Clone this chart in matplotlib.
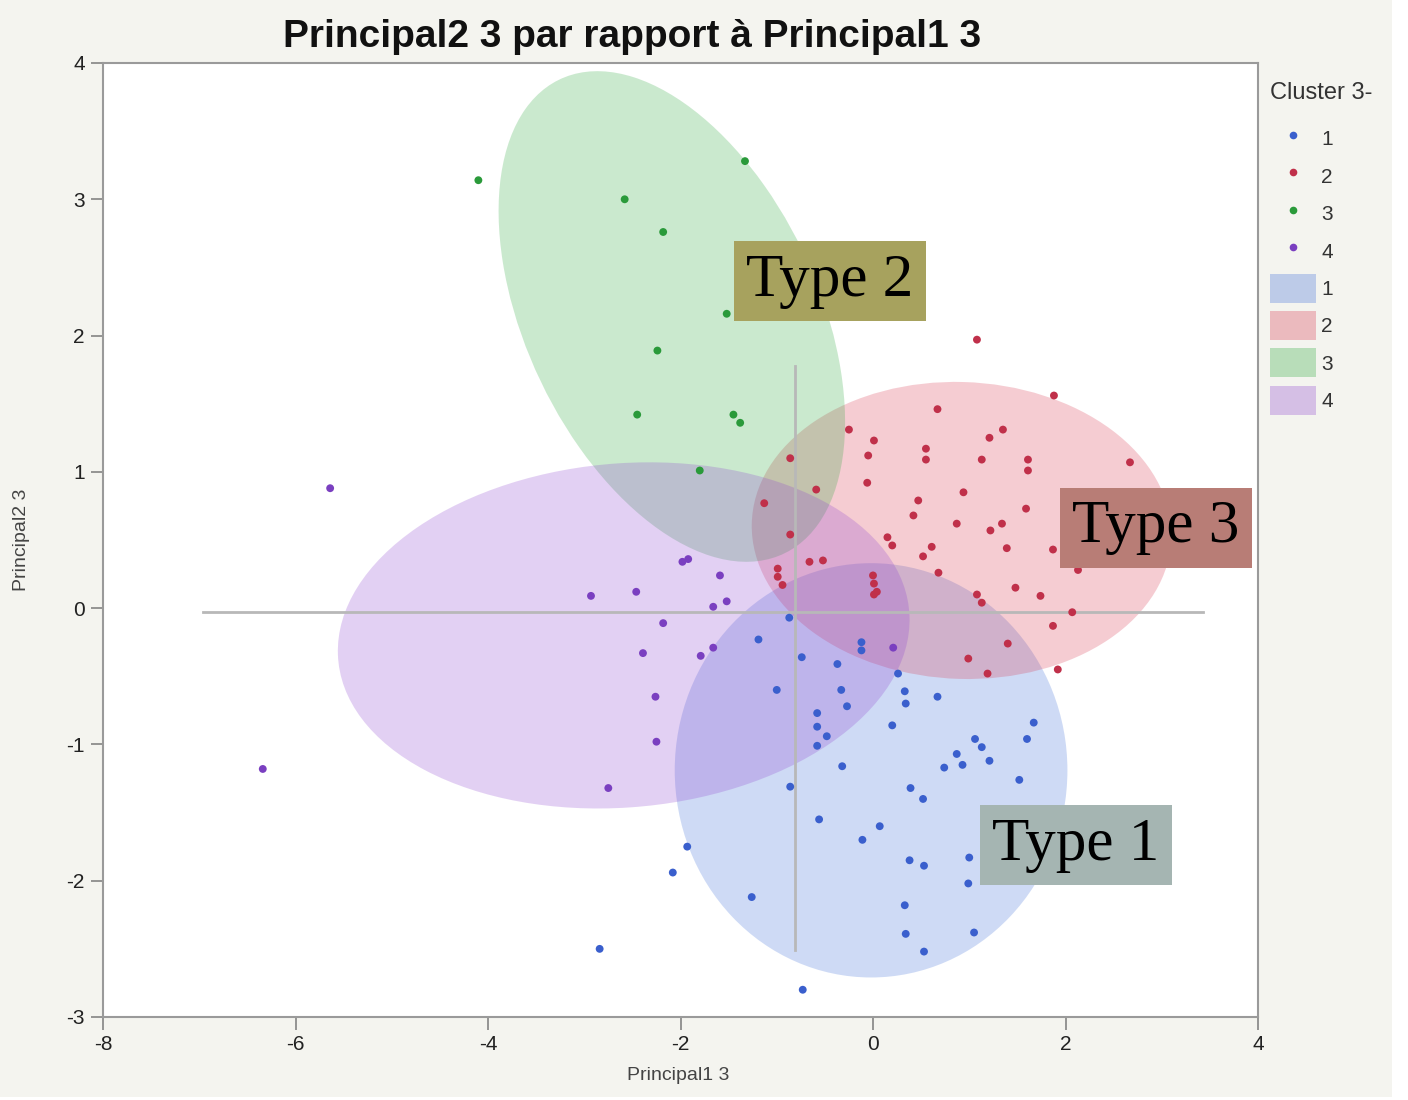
import matplotlib.pyplot as plt
import numpy as np
from matplotlib.patches import Ellipse, Patch, Rectangle
from matplotlib.lines import Line2D

plt.rcParams['axes.unicode_minus'] = False
plt.rcParams['font.family'] = ['Liberation Sans', 'DejaVu Sans']

# points par cluster (Principal1 3, Principal2 3)
c1_x = [-0.87, -1.19, -0.74, -0.37, -1.00, -0.33, -0.27, -0.58, -0.58, -0.48, -0.58, -0.32,
        -0.86, -0.56, 0.07, -0.11, -1.93, -2.08, -1.26, -0.73, 0.26, 0.33, 0.34, 0.67, 0.20,
        1.06, 1.13, 1.21, 0.87, 0.93, 0.74, 1.67, 1.60, 1.52, 0.39, 0.52, 1.00, 0.38, 0.53,
        0.99, 0.33, 0.34, 1.05, 0.53, -2.84, -0.12, -0.12]
c1_y = [-0.07, -0.23, -0.36, -0.41, -0.60, -0.60, -0.72, -0.77, -0.87, -0.94, -1.01, -1.16,
        -1.31, -1.55, -1.60, -1.70, -1.75, -1.94, -2.12, -2.80, -0.48, -0.61, -0.70, -0.65, -0.86,
        -0.96, -1.02, -1.12, -1.07, -1.15, -1.17, -0.84, -0.96, -1.26, -1.32, -1.40, -1.83, -1.85, -1.89,
        -2.02, -2.18, -2.39, -2.38, -2.52, -2.50, -0.25, -0.31]

c2_x = [1.08, 1.88, 0.67, -0.25, 0.01, -0.05, -0.06, 0.55, 0.55, 1.21, 1.35, 1.13, 1.61, 1.61,
        2.67, 0.94, 0.47, 0.42, 0.87, 1.59, 1.22, 1.34, 1.39, 1.87, 0.61, 0.52, 0.15, 0.20, 0.68,
        1.48, 1.74, 1.08, 1.13, 1.87, 1.40, 0.99, 1.19, 1.92, -0.86, -0.59, -1.13, -0.86, -0.99,
        -0.99, -0.94, -0.66, -0.52, 0.00, 0.01, 0.04, 0.01, 2.13, 2.07]
c2_y = [1.97, 1.56, 1.46, 1.31, 1.23, 1.12, 0.92, 1.17, 1.09, 1.25, 1.31, 1.09, 1.09, 1.01,
        1.07, 0.85, 0.79, 0.68, 0.62, 0.73, 0.57, 0.62, 0.44, 0.43, 0.45, 0.38, 0.52, 0.46, 0.26,
        0.15, 0.09, 0.10, 0.04, -0.13, -0.26, -0.37, -0.48, -0.45, 1.10, 0.87, 0.77, 0.54, 0.29,
        0.23, 0.17, 0.34, 0.35, 0.24, 0.18, 0.12, 0.10, 0.28, -0.03]

c3_x = [-4.10, -2.58, -2.18, -1.33, -1.52, -2.24, -2.45, -1.45, -1.38, -1.80]
c3_y = [3.14, 3.00, 2.76, 3.28, 2.16, 1.89, 1.42, 1.42, 1.36, 1.01]

c4_x = [-5.64, -6.34, -2.75, -2.25, -2.26, -2.39, -2.18, -2.93, -2.46, -1.98, -1.92, -1.59,
        -1.66, -1.52, -1.79, -1.66, 0.21]
c4_y = [0.88, -1.18, -1.32, -0.98, -0.65, -0.33, -0.11, 0.09, 0.12, 0.34, 0.36, 0.24,
        0.01, 0.05, -0.35, -0.29, -0.29]

# ellipses de densité: centre, écarts-types, corrélation
ell_cx = [-0.02, 0.92, -2.09, -2.59]
ell_cy = [-1.19, 0.57, 2.14, -0.20]
ell_sx = [2.04, 2.18, 1.80, 2.97]
ell_sy = [1.52, 1.09, 1.80, 1.27]
ell_rho = [0.0, -0.03, -0.43, 0.09]

clusters = ['1', '2', '3', '4']
pt_colors = ['#3a5fcd', '#c0304a', '#2a9a3a', '#7a3fc0']
fill_colors = ['#3f6fd8', '#d8374f', '#2ea83f', '#8f45d0']

# lignes de référence
vline_x = -0.81
vline_y = [-2.51, 1.78]
hline_y = -0.03
hline_x = [-6.96, 3.43]

# étiquettes ajoutées
type_labels = ['Type 1', 'Type 2', 'Type 3']
type_x = [2.11, -0.45, 2.94]
type_y = [-1.74, 2.40, 0.59]
type_colors = ['#a5b5b2', '#a7a25e', '#b87d76']

fig = plt.figure(figsize=(14.08, 11), dpi=100, facecolor='#f4f4ef')
ax = fig.add_axes([103 / 1408, 1 - 1017 / 1100, 1155 / 1408, 954 / 1100])
ax.set_facecolor('white')

for i in range(4):
    cov = np.array([[ell_sx[i] ** 2, ell_rho[i] * ell_sx[i] * ell_sy[i]],
                    [ell_rho[i] * ell_sx[i] * ell_sy[i], ell_sy[i] ** 2]])
    vals, vecs = np.linalg.eigh(cov)
    ang = np.degrees(np.arctan2(vecs[1, 1], vecs[0, 1]))
    e = Ellipse((ell_cx[i], ell_cy[i]), 2 * np.sqrt(vals[1]), 2 * np.sqrt(vals[0]),
                angle=ang, facecolor=fill_colors[i], alpha=0.25, edgecolor='none', zorder=1)
    ax.add_patch(e)

ax.plot([vline_x, vline_x], vline_y, color='#b8b8b8', lw=2, zorder=2)
ax.plot(hline_x, [hline_y, hline_y], color='#b8b8b8', lw=2, zorder=2)

xs = [c1_x, c2_x, c3_x, c4_x]
ys = [c1_y, c2_y, c3_y, c4_y]
for i in range(4):
    ax.scatter(xs[i], ys[i], s=32, color=pt_colors[i], edgecolors='none', zorder=3)

for lab, tx, ty, col in zip(type_labels, type_x, type_y, type_colors):
    ax.text(tx, ty, lab, family=['Liberation Serif', 'DejaVu Serif'], fontsize=44,
            ha='center', va='center', color='black', zorder=5,
            bbox=dict(boxstyle='square,pad=0.2', facecolor=col, edgecolor='none'))

ax.set_xlim(-8, 4)
ax.set_ylim(-3, 4)
ax.set_xticks([-8, -6, -4, -2, 0, 2, 4])
ax.set_yticks([-3, -2, -1, 0, 1, 2, 3, 4])
ax.tick_params(direction='out', length=9, width=1.3, color='#8c8c8c',
               labelsize=15, labelcolor='#222222', pad=4)
for sp in ax.spines.values():
    sp.set_color('#9a9a9a')
    sp.set_linewidth(1.5)

fig.text(632 / 1408, 1 - 37 / 1100, 'Principal2 3 par rapport à Principal1 3',
         fontweight='bold', fontsize=28, ha='center', va='center', color='#111111')
fig.text(678 / 1408, 1 - 1075 / 1100, 'Principal1 3', fontsize=14, color='#444444',
         ha='center', va='center')
fig.text(22 / 1408, 1 - 540 / 1100, 'Principal2 3', fontsize=14, color='#444444',
         ha='center', va='center', rotation=90)

# légende
fig.text(1270 / 1408, 1 - 93 / 1100, 'Cluster 3-', fontsize=17, color='#333333',
         ha='left', va='center')
handles = [Line2D([], [], marker='o', linestyle='none', markersize=5.5,
                  markerfacecolor=c, markeredgecolor='none') for c in pt_colors]
handles += [Patch(facecolor=c, alpha=0.3, edgecolor='none') for c in fill_colors]
leg = fig.legend(handles, clusters + clusters, loc='upper left',
                 bbox_to_anchor=(1262 / 1408, 1 - 116 / 1100), frameon=False,
                 fontsize=15, handlelength=2.2, handleheight=1.75,
                 handletextpad=0.25, labelspacing=0.41, borderaxespad=0)
for t in leg.get_texts():
    t.set_color('#333333')

# bords blancs de la capture
fig.add_artist(Rectangle((1392 / 1408, 0), 1, 1, transform=fig.transFigure,
                         facecolor='white', edgecolor='none', zorder=20))
fig.add_artist(Rectangle((0, 0), 1, 3 / 1100, transform=fig.transFigure,
                         facecolor='white', edgecolor='none', zorder=20))

fig.savefig('out.png', dpi=100, facecolor=fig.get_facecolor())
